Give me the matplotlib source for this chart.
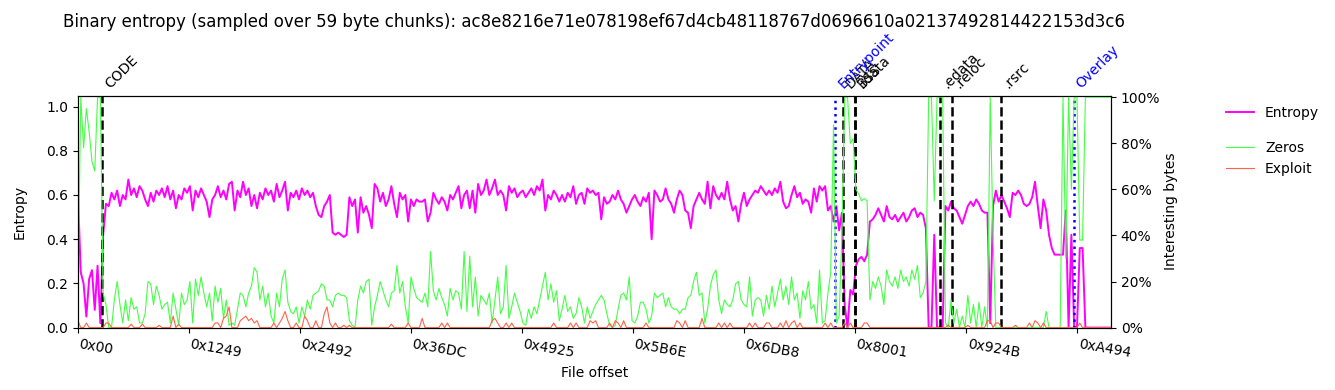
import numpy as np
import matplotlib
matplotlib.use("Agg")
import matplotlib.pyplot as plt

CHUNK = 59
STEP = 2  # one value every two chunks
sha = "ac8e8216e71e078198ef67d4cb48118767d0696610a02137492814422153d3c6"

# entropy per sample (0..1)
entropy = [
    .60, .25, .20, .05, .22, .26, .08, .28, .02, .42,
    .56, .55, .61, .58, .62, .55, .60, .58, .67, .60,
    .63, .59, .64, .62, .58, .55, .61, .57, .62, .60,
    .63, .59, .64, .58, .62, .54, .60, .58, .63, .61,
    .64, .53, .62, .59, .63, .60, .57, .50, .58, .60,
    .64, .59, .62, .58, .65, .66, .53, .62, .59, .66,
    .60, .63, .55, .60, .54, .61, .58, .63, .60, .62,
    .57, .65, .59, .62, .66, .53, .61, .59, .62, .58,
    .63, .60, .62, .59, .61, .55, .51, .50, .55, .57,
    .60, .43, .42, .43, .42, .41, .42, .59, .55, .58,
    .43, .59, .52, .55, .51, .45, .65, .63, .57, .61,
    .55, .58, .64, .56, .50, .61, .58, .60, .48, .58,
    .55, .58, .57, .57, .58, .48, .52, .61, .58, .56,
    .59, .57, .53, .60, .58, .61, .64, .54, .60, .62,
    .54, .62, .52, .65, .60, .62, .67, .60, .63, .67,
    .60, .62, .60, .53, .64, .61, .63, .59, .61, .62,
    .59, .61, .63, .60, .64, .62, .67, .53, .60, .58,
    .62, .60, .57, .60, .57, .61, .59, .64, .56, .60,
    .61, .56, .63, .61, .62, .60, .61, .49, .59, .56,
    .57, .60, .58, .62, .58, .56, .52, .55, .58, .60,
    .57, .55, .59, .57, .61, .40, .62, .60, .57, .58,
    .63, .58, .56, .52, .58, .62, .60, .53, .52, .45,
    .55, .58, .61, .58, .56, .66, .54, .64, .60, .58,
    .61, .58, .66, .58, .53, .55, .48, .56, .61, .55,
    .58, .60, .62, .61, .64, .62, .60, .62, .60, .63,
    .61, .66, .57, .54, .55, .60, .64, .59, .61, .56,
    .58, .57, .52, .63, .57, .64, .62, .64, .53, .55,
    .48, .55, .44, .52, .10, .00, .17, .15, .28, .31,
    .32, .30, .33, .48, .49, .51, .54, .51, .48, .55,
    .50, .49, .51, .48, .50, .52, .48, .50, .53, .54,
    .50, .52, .51, .45, .00, .00, .42, .00, .00, .00,
    .55, .53, .57, .54, .53, .50, .47, .51, .55, .57,
    .55, .58, .56, .53, .52, .52, .02, .55, .62, .57,
    .60, .57, .54, .50, .61, .60, .62, .60, .56, .55,
    .56, .59, .66, .55, .45, .58, .53, .42, .36, .33,
    .33, .33, .33, .53, .00, .42, .00, .00, .36, .36,
    .00, .00, .00, .00, .00, .00, .00, .00, .00, .00,
]

# share of zero bytes per sample (%)
zeros = [
    15, 100, 78, 95, 85, 72, 68, 100, 100, 15,
    10, 0, 0, 12, 20, 10, 2, 12, 3, 13,
    8, 9, 2, 2, 6, 20, 19, 10, 18, 14,
    8, 10, 11, 2, 15, 8, 1, 15, 10, 12,
    20, 2, 21, 14, 22, 15, 9, 15, 3, 18,
    11, 17, 4, 12, 1, 2, 1, 8, 15, 14,
    9, 15, 18, 26, 24, 12, 18, 9, 15, 5,
    2, 15, 9, 21, 25, 11, 7, 6, 9, 2,
    9, 5, 12, 8, 14, 15, 16, 19, 18, 12,
    12, 9, 14, 15, 14, 14, 13, 3, 1, 0,
    12, 18, 15, 20, 21, 1, 9, 14, 20, 16,
    12, 9, 15, 16, 27, 15, 20, 9, 2, 22,
    17, 13, 12, 11, 15, 9, 33, 16, 12, 17,
    13, 10, 5, 17, 12, 16, 15, 8, 33, 7,
    31, 9, 22, 5, 14, 12, 10, 15, 2, 12,
    22, 6, 9, 27, 4, 9, 15, 11, 7, 2,
    1, 8, 4, 9, 6, 12, 18, 24, 12, 19,
    11, 16, 3, 8, 14, 7, 9, 4, 6, 13,
    9, 2, 9, 4, 7, 10, 12, 14, 12, 6,
    1, 0, 1, 8, 14, 15, 12, 22, 3, 2,
    5, 11, 11, 8, 2, 5, 15, 13, 14, 15,
    9, 13, 9, 8, 8, 6, 8, 8, 13, 14,
    20, 24, 14, 15, 2, 8, 18, 23, 25, 12,
    6, 12, 10, 9, 12, 19, 20, 12, 10, 9,
    22, 5, 12, 13, 12, 5, 14, 8, 18, 9,
    15, 21, 12, 18, 10, 22, 12, 15, 4, 16,
    12, 20, 8, 10, 2, 25, 2, 3, 15, 24,
    88, 2, 5, 40, 100, 100, 80, 82, 60, 58,
    55, 56, 55, 12, 20, 17, 22, 18, 10, 25,
    20, 18, 22, 17, 25, 20, 22, 18, 25, 21,
    27, 13, 15, 20, 100, 100, 55, 100, 100, 100,
    2, 0, 12, 2, 8, 0, 5, 0, 14, 2,
    10, 0, 11, 0, 9, 0, 100, 40, 0, 0,
    0, 0, 0, 0, 0, 0, 0, 0, 0, 0,
    0, 0, 0, 0, 0, 0, 7, 0, 0, 0,
    0, 0, 100, 30, 100, 60, 100, 100, 38, 38,
    100, 100, 100, 100, 100, 100, 100, 100, 100, 100,
]

# exploit-like bytes: (sample index, %), zero elsewhere
exploit_spikes = [
    (0, 3), (3, 2), (10, 2), (11, 2), (19, 1.5), (23, 1.5), (29, 1), (34, 5),
    (36, 1.5), (49, 2), (50, 2), (52, 4), (53, 5), (54, 9), (58, 3), (59, 4),
    (60, 5), (61, 3), (62, 4), (63, 2), (64, 3), (70, 2), (72, 2), (73, 4),
    (74, 7), (75, 3), (78, 2), (81, 5), (82, 3), (85, 3), (88, 6), (89, 9),
    (90, 2), (92, 2), (95, 1), (97, 1), (112, 1.5), (118, 2), (123, 4),
    (130, 2), (132, 2), (148, 3), (149, 4), (150, 2), (153, 2), (155, 2),
    (170, 2), (176, 2), (178, 2), (183, 3), (184, 2), (185, 3), (190, 2),
    (192, 3), (193, 2), (195, 3), (203, 2), (214, 3), (215, 2), (217, 3),
    (223, 4), (229, 2), (231, 2), (233, 2), (240, 2), (242, 2), (246, 2),
    (247, 2), (251, 2), (253, 3), (255, 2), (256, 3), (258, 2), (267, 2),
    (269, 2), (274, 2), (276, 2), (281, 2), (282, 2), (311, 1), (318, 1),
    (325, 3), (326, 3), (328, 2), (329, 2), (335, 1), (340, 2), (342, 3),
    (343, 2), (345, 2), (358, 2),
]

section_names = ["CODE", "DATA", "BSS", ".idata", ".edata", ".reloc", ".rsrc"]
section_offsets = [0x400, 0x7E00, 0x8000, 0x8000, 0x8E00, 0x9000, 0x9800]
marker_names = ["Entrypoint", "Overlay"]
marker_offsets = [0x7CC4, 0xA400]

tick_labels = ["0x00", "0x1249", "0x2492", "0x36DC", "0x4925",
               "0x5B6E", "0x6DB8", "0x8001", "0x924B", "0xA494"]
pct_ticks = [0, 20, 40, 60, 80, 100]

n = len(entropy)
offsets = np.arange(n) * CHUNK * STEP
exploit = np.zeros(n)
for i, v in exploit_spikes:
    exploit[i] = v

fig = plt.figure(figsize=(13.35, 3.9), dpi=100)
ax = fig.add_axes([0.0584, 0.160, 0.7738, 0.595])
ax2 = ax.twinx()

l1, = ax.plot(offsets, entropy, color="#ff00ff", lw=1.4)
l2, = ax2.plot(offsets, zeros, color="#44ff44", lw=0.8)
l3, = ax2.plot(offsets, exploit, color="#ff6347", lw=0.8)

trans = ax.get_xaxis_transform()
for name, off in zip(section_names, section_offsets):
    ax.axvline(off, color="black", ls="--", lw=1.8)
    ax.text(off, 1.02, name, transform=trans, rotation=45, ha="left", va="bottom", fontsize=10)
for name, off in zip(marker_names, marker_offsets):
    ax.axvline(off, color="blue", ls=":", lw=1.8)
    ax.text(off, 1.02, name, transform=trans, rotation=45, ha="left", va="bottom",
            fontsize=10, color="blue")

ax.set_xlim(0, 43560)
ax.set_ylim(0, 1.05)
ax2.set_ylim(0, 100.7)
ax.set_xticks([int(t, 16) for t in tick_labels])
ax.set_xticklabels(tick_labels, rotation=-10, ha="left")
ax2.set_yticks(pct_ticks)
ax2.set_yticklabels([f"{p}%" for p in pct_ticks])

ax.set_xlabel("File offset")
ax.set_ylabel("Entropy", labelpad=14)
ax2.set_ylabel("Interesting bytes", labelpad=3)
ax.set_title("Binary entropy (sampled over %d byte chunks): %s" % (CHUNK, sha), fontsize=12, pad=49)

fig.legend([l1], ["Entropy"], loc="center left", bbox_to_anchor=(0.909, (390 - 113) / 390), frameon=False)
fig.legend([l2, l3], ["Zeros", "Exploit"], loc="center left",
           bbox_to_anchor=(0.909, (390 - 158.5) / 390), frameon=False)

fig.savefig("out.png", dpi=100)
